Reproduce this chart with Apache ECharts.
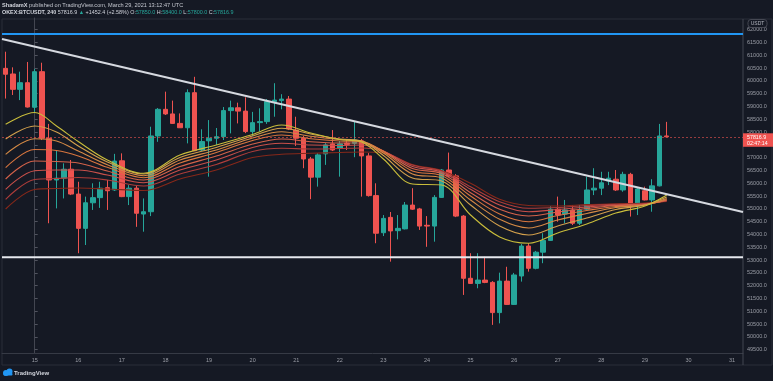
<!DOCTYPE html>
<html><head><meta charset="utf-8">
<script src="https://cdn.jsdelivr.net/npm/echarts@6/dist/echarts.min.js"></script>
<style>html,body{margin:0;padding:0;background:#151924;}#c{width:773px;height:381px;}</style>
</head><body><div id="c"></div>
<script>
// ---- time slots (4h candles), day labels ----
const dayLabels = ['14','15','16','17','18','19','20','21','22','23','24','25','26','27','28','29','30','31'];
const firstSlot = -4, lastSlot = 97; // slot 0 = 15 Mar 00:00
// ---- OHLC (slots -4 .. 87) ----
const opens = [60490,60270,59670,59930,58970,60360,57760,56130,56200,56550,55580,54240,55240,55440,55830,55740,56880,55480,55810,54800,54890,57850,58890,58710,58340,58170,59540,57300,57660,57760,57820,58840,58950,58820,58020,58370,58410,59190,59230,59290,58080,57760,56950,56240,57150,57540,57370,57570,57560,57660,57070,55520,54070,54670,54150,54220,55150,55000,54360,54330,55450,56520,56290,54720,52290,52090,52220,52130,50950,52180,51270,52380,53550,52680,53310,53770,54990,54800,54960,54440,54990,55740,55810,56090,56160,55740,56350,55190,55710,55350,55900,57850];
const closes = [60260,59670,59930,58980,60360,57760,56130,56200,56550,55580,54240,55240,55440,55810,55710,56870,55480,55810,54830,54890,57850,58890,58710,58340,58170,59540,57270,57630,57760,57820,58840,58950,58820,58020,58370,58410,59190,59250,59290,58120,57760,56950,56240,57110,57500,57300,57540,57520,57690,57070,55520,54050,54630,54140,54240,55150,54990,54330,54330,55450,56520,56290,54720,52290,52090,52220,52130,50950,52180,51270,52420,53550,52680,53310,53770,54990,54760,54960,54440,54960,55740,55810,56020,56200,55740,56350,55190,55780,55350,55900,57850,57816.9];
const highs = [61140,60530,60360,60740,60470,60710,58320,57270,56780,56910,56060,55480,56000,56060,56130,57150,57170,55930,55900,55410,58210,58940,59580,59230,58730,59670,60160,58110,58470,58160,58980,59230,59150,59360,58790,58930,59290,59910,59480,59410,58600,57850,57030,57180,57570,58080,57650,57690,58410,57730,57180,56000,54760,54880,54760,55270,55810,55040,54720,55540,56560,57200,56360,54760,53270,53270,53130,52180,52510,52740,52500,53630,53660,53360,54050,55110,55480,55350,55150,55150,56260,56590,56450,56450,56520,56450,56410,55820,55870,56160,58320,58400];
const lows = [59310,59450,59250,58960,58790,57690,54440,55020,55410,55540,53270,53590,54960,55040,54960,55700,55460,55150,54300,54110,54720,57620,58670,58320,58160,57560,57260,57260,56260,57500,57690,57950,58340,57960,57850,58020,58320,58600,58890,58080,57460,56590,55380,55870,56720,57260,56260,57300,57020,55480,55480,53660,53940,52940,53810,54200,54960,54180,53520,53720,55430,56250,54680,51640,52070,51900,52100,50470,50530,51250,51250,52160,52550,52640,52880,53750,54500,54440,54370,54370,54960,55540,55540,55930,55700,55670,54700,54760,55330,54890,55880,57800];
// ---- EMA ribbon, read at these slots ----
const ribbonSlots = [-4,0,3,6,10,15,20,25,30,34,38,42,45,48,52,56,60,64,68,72,76,80,84,87];
const ema1 = [58305,58766,58238,57633,56910,56391,57106,57496,57906,58277,57965,57711,57613,56949,55973,55934,54762,53903,53657,54059,54411,54840,55114,55543];
const ema2 = [57731,58238,58004,57457,56832,56363,57008,57399,57848,58149,57926,57731,57653,57086,56207,56090,55153,54332,53981,54332,54645,54977,55153,55465];
const ema3 = [57133,57742,57653,57262,56727,56297,56910,57301,57770,58016,57836,57711,57653,57184,56363,56207,55348,54594,54254,54567,54821,55055,55153,55407];
const ema4 = [56610,57321,57281,57067,56625,56219,56793,57203,57672,57887,57742,57653,57633,57242,56481,56305,55504,54801,54500,54743,54938,55094,55153,55368];
const ema5 = [56168,56871,56852,56793,56481,56129,56657,57067,57535,57731,57625,57574,57574,57262,56578,56383,55633,54985,54723,54879,55016,55133,55172,55348];
const ema6 = [55766,56492,56520,56520,56324,56024,56520,56910,57399,57563,57496,57477,57496,57262,56657,56442,55766,55153,54891,54977,55075,55153,55192,55328];
const ema7 = [55375,56149,56188,56227,56129,55895,56363,56735,57242,57367,57340,57360,57379,57242,56715,56481,55867,55282,55024,55055,55133,55180,55211,55309];
const ema8 = [54996,55758,55797,55817,55778,55719,56168,56520,57008,57133,57172,57203,57223,57184,56735,56500,56000,55375,55133,55114,55172,55203,55231,55289];
const emaColors = ['#c9bd3b','#d3a04c','#d68a45','#d9763f','#d4624a','#c9504a','#ad3d3a','#86281a'];
// ---- drawn levels ----
const resistanceLevel = 61832;
const supportLevel = 53110;
const trendStartPrice = 61637, trendEndPrice = 54879;
const lastPrice = 57816.9;
const priceTicks = [49500,50000,50500,51000,51500,52000,52500,53000,53500,54000,54500,55000,55500,56000,56500,57000,57500,58000,58500,59000,59500,60000,60500,61000,61500,62000];

const categories = [];
for (let s = firstSlot; s <= lastSlot; s++) {
  const d = dayLabels[Math.floor((s + 6) / 6)];
  const h = (((s % 6) + 6) % 6) * 4;
  categories.push(d + ' ' + (h < 10 ? '0' : '') + h + ':00');
}
const isMidnight = (idx) => categories[idx] && categories[idx].endsWith(' 00:00');
const candleData = opens.map((o, k) => [o, closes[k], lows[k], highs[k]]);

const FONT = 'Liberation Sans';
const chart = echarts.init(document.getElementById('c'), null, {renderer: 'canvas'});
const emaSeries = [ema1, ema2, ema3, ema4, ema5, ema6, ema7, ema8].map((arr, j) => ({
  type: 'line', xAxisIndex: 1, yAxisIndex: 0, smooth: 0.35, showSymbol: false, silent: true,
  data: arr.map((v, k) => [ribbonSlots[k], v]),
  lineStyle: {color: emaColors[j], width: 1.1}, z: 5 - j * 0.1
}));
const xMin = firstSlot - 0.5, xMax = lastSlot + 0.5;

chart.setOption({
  animation: false,
  backgroundColor: '#151924',
  grid: {left: 2, right: 30, top: 18, height: 335},
  xAxis: [{
    type: 'category', data: categories, boundaryGap: true,
    axisLine: {lineStyle: {color: '#363a45'}},
    axisTick: {interval: (i) => isMidnight(i), alignWithLabel: true, length: 3, lineStyle: {color: '#50535e'}},
    axisLabel: {interval: (i) => isMidnight(i), formatter: (v) => v.split(' ')[0], color: '#9a9da6', fontSize: 5.5, fontFamily: FONT, margin: 4},
    splitLine: {show: false}
  }, {
    type: 'value', min: xMin, max: xMax, show: false
  }],
  yAxis: [{
    type: 'value', position: 'right', min: 49372, max: 62457, scale: true,
    axisLine: {show: true, lineStyle: {color: '#434651'}},
    axisTick: {show: true, customValues: priceTicks, length: 3, lineStyle: {color: '#50535e'}},
    axisLabel: {customValues: priceTicks, formatter: (v) => Number(v).toFixed(1), color: '#9a9da6', fontSize: 5.5, fontFamily: FONT, margin: 4},
    splitLine: {show: false}
  }],
  series: [
    {
      type: 'candlestick', data: candleData, barWidth: 5, z: 3,
      itemStyle: {color: '#26a69a', color0: '#ef5350', borderColor: '#26a69a', borderColor0: '#ef5350', borderWidth: 1},
      markLine: {
        symbol: 'none', silent: true, label: {show: false},
        lineStyle: {color: 'rgba(239,83,80,0.6)', type: [2, 2], width: 1},
        data: [{yAxis: lastPrice}]
      }
    },
    {type: 'line', xAxisIndex: 1, showSymbol: false, silent: true, data: [[xMin, resistanceLevel], [xMax, resistanceLevel]], lineStyle: {color: '#2196f3', width: 2}, z: 6},
    {type: 'line', xAxisIndex: 1, showSymbol: false, silent: true, data: [[xMin, supportLevel], [xMax, supportLevel]], lineStyle: {color: '#e6e8ee', width: 2}, z: 6},
    {type: 'line', xAxisIndex: 1, showSymbol: false, silent: true, data: [[xMin, trendStartPrice], [xMax, trendEndPrice]], lineStyle: {color: '#d6d9e0', width: 2}, z: 6},
    ...emaSeries
  ]
});

const py = chart.convertToPixel({yAxisIndex: 0}, lastPrice);
chart.setOption({
  graphic: [
    {type: 'rect', shape: {x: 2, y: 19, width: 770, height: 346}, style: {fill: 'none', stroke: '#2a2e39', lineWidth: 1}, silent: true, z: 0},
    {type: 'line', shape: {x1: 743, y1: 19, x2: 743, y2: 365}, style: {stroke: '#434651', lineWidth: 1}, z: 1},
    {type: 'text', left: 2, top: 2, style: {
      text: '{b|ShadamX} published on TradingView.com, March 29, 2021 13:12:47 UTC',
      rich: {b: {fontWeight: 'bold', fill: '#d1d4dc', fontSize: 5.6, fontFamily: FONT}},
      fill: '#c5c8d0', fontSize: 5.6, fontFamily: FONT}},
    {type: 'text', left: 2, top: 10, style: {
      text: '{b|OKEX:BTCUSDT, 240} {w|57816.9} {g|▲} {w|+1452.4 (+2.58%)} {w|O:}{g|57850.0} {w|H:}{g|58400.0} {w|L:}{g|57800.0} {w|C:}{g|57816.9}',
      rich: {b: {fill: '#d1d4dc', fontSize: 5.4, fontFamily: FONT, fontWeight: 'bold'}, w: {fill: '#d1d4dc', fontSize: 5.4, fontFamily: FONT}, g: {fill: '#26a69a', fontSize: 5.4, fontFamily: FONT}},
      fontSize: 5.4, fontFamily: FONT}},
    {type: 'rect', shape: {x: 748, y: 19.5, width: 19, height: 8, r: 3}, style: {fill: '#151924', stroke: '#50535e', lineWidth: 0.8}, z: 20},
    {type: 'text', x: 757.5, y: 23.5, style: {text: 'USDT', fill: '#b2b5be', fontSize: 5, fontFamily: FONT, align: 'center', verticalAlign: 'middle'}, z: 21},
    {type: 'rect', shape: {x: 743, y: py - 3.5, width: 30, height: 13.5}, style: {fill: '#ef5350'}, z: 20},
    {type: 'text', x: 747, y: py + 0.3, style: {text: '57816.9', fill: '#ffffff', fontSize: 5.3, fontFamily: FONT, verticalAlign: 'middle'}, z: 21},
    {type: 'text', x: 747, y: py + 6.8, style: {text: '02:47:14', fill: '#ffffff', fontSize: 5.3, fontFamily: FONT, verticalAlign: 'middle'}, z: 21},
    {type: 'circle', shape: {cx: 6, cy: 373, r: 3}, style: {fill: '#2196f3'}},
    {type: 'circle', shape: {cx: 9.5, cy: 371.5, r: 3}, style: {fill: '#2196f3'}},
    {type: 'rect', shape: {x: 3.5, y: 373, width: 9, height: 2.5, r: 1}, style: {fill: '#2196f3'}},
    {type: 'text', x: 14, y: 373.5, style: {text: 'TradingView', fill: '#d1d4dc', fontSize: 6, fontWeight: 'bold', fontFamily: FONT, verticalAlign: 'middle'}}
  ]
});
</script></body></html>
